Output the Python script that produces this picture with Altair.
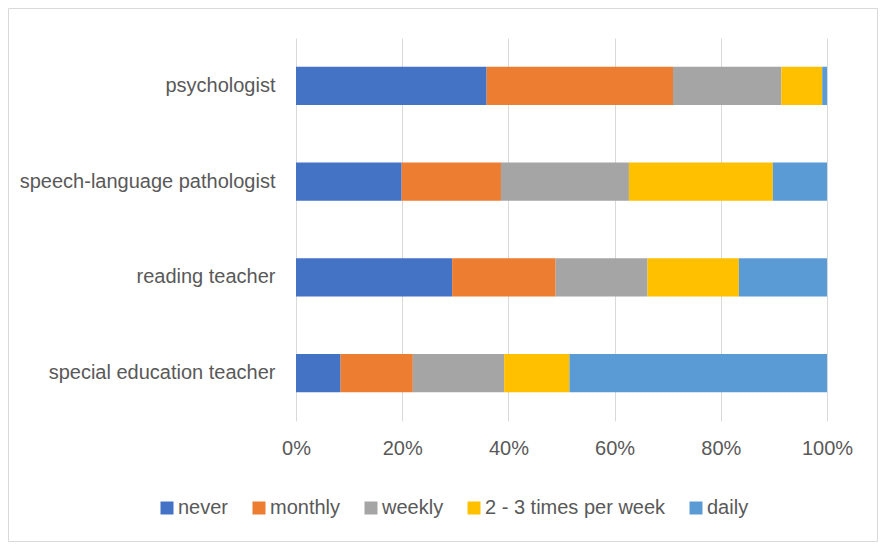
import altair as alt
import pandas as pd

FONT = "Liberation Sans"

roles = ["psychologist", "speech-language pathologist", "reading teacher", "special education teacher"]
freqs = ["never", "monthly", "weekly", "2 - 3 times per week", "daily"]
never = [35.9, 19.9, 29.4, 8.4]
monthly = [35.1, 18.7, 19.5, 13.6]
weekly = [20.4, 24.1, 17.3, 17.2]
two_three = [7.7, 27.1, 17.2, 12.3]
daily = [0.9, 10.2, 16.6, 48.5]
colors = ["#4472C4", "#ED7D31", "#A5A5A5", "#FFC000", "#5B9BD5"]
x_ticks = [0, 0.2, 0.4, 0.6, 0.8, 1.0]

series = [never, monthly, weekly, two_three, daily]
rows = []
for k, (f, vals) in enumerate(zip(freqs, series)):
    for r, v in zip(roles, vals):
        rows.append({"role": r, "freq": f, "value": v, "idx": k})
df = pd.DataFrame(rows)

TXT = "#595959"
FS = 20

bars = alt.Chart(df).mark_bar().encode(
    y=alt.Y("role:N", sort=roles,
            scale=alt.Scale(paddingInner=0.6, paddingOuter=0.3),
            axis=alt.Axis(title=None, ticks=False, domain=False, labelFontSize=FS,
                          labelColor=TXT, labelFont=FONT, labelPadding=21, labelLimit=400)),
    x=alt.X("value:Q", stack="normalize",
            scale=alt.Scale(domain=[0, 1], nice=False),
            axis=alt.Axis(format=".0%", values=x_ticks, title=None, ticks=False, domain=False,
                          grid=True, gridColor="#d9d9d9", gridWidth=1, labelFontSize=FS,
                          labelColor=TXT, labelFont=FONT, labelPadding=17, labelFlush=False,
                          labelOverlap=False)),
    color=alt.Color("freq:N", sort=freqs,
                    scale=alt.Scale(domain=freqs, range=colors),
                    legend=alt.Legend(title=None, orient="none", legendX=-139, legendY=460,
                                      direction="horizontal", columns=5, symbolType="square",
                                      symbolSize=169, symbolStrokeWidth=0, labelOffset=1,
                                      columnPadding=20, labelFontSize=FS, labelColor=TXT,
                                      labelFont=FONT, labelLimit=400)),
    order=alt.Order("idx:Q"),
)

border = alt.Chart(pd.DataFrame({"a": [0]})).mark_rect(
    fill="transparent", stroke="#d9d9d9", strokeWidth=1
).encode(
    x=alt.value(-287.5), x2=alt.value(581.5), y=alt.value(-29.5), y2=alt.value(503.5)
)

chart = alt.layer(border, bars).properties(
    width=531, height=383,
    autosize=alt.AutoSizeParams(type="none"),
    padding={"left": 288, "top": 30, "right": 51, "bottom": 121},
).configure_view(strokeWidth=0)

chart.save("out.html", embed_options={"renderer": "svg", "actions": False})
